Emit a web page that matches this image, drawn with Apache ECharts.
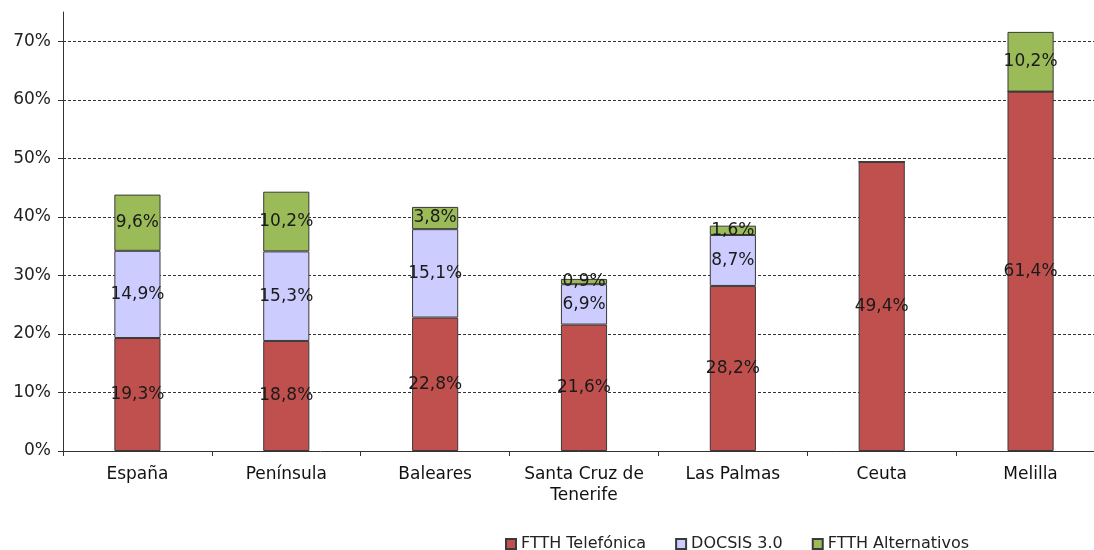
<!DOCTYPE html>
<html><head><meta charset="utf-8">
<script src="https://cdn.jsdelivr.net/npm/echarts@6/dist/echarts.min.js"></script>
<style>html,body{margin:0;padding:0;background:#fff}#c{width:1094px;height:550px}</style>
</head><body><div id="c"></div>
<script>
const categories = ['España', 'Península', 'Baleares', 'Santa Cruz de\nTenerife', 'Las Palmas', 'Ceuta', 'Melilla'];
const ftthTelefonica = [19.3, 18.8, 22.8, 21.6, 28.2, 49.4, 61.4];
const docsis = [14.9, 15.3, 15.1, 6.9, 8.7, 0, 0];
const ftthAlternativos = [9.6, 10.2, 3.8, 0.9, 1.6, 0, 10.2];
const seriesNames = ['FTTH Telefónica', 'DOCSIS 3.0', 'FTTH Alternativos'];
const yTicks = [0, 10, 20, 30, 40, 50, 60, 70];

const font = 'DejaVu Sans, sans-serif';
const chart = echarts.init(document.getElementById('c'));
function mk(name, data, color) {
  return {
    name, type: 'bar', stack: 't', data, barWidth: '31%',
    itemStyle: { color, borderColor: '#3a3a3a', borderWidth: 1 },
    label: {
      show: true, position: 'inside', fontFamily: font, fontSize: 17, color: '#1a1a1a',
      formatter: p => p.value > 0 ? p.value.toFixed(1).replace('.', ',') + '%' : ''
    }
  };
}
chart.setOption({
  animation: false,
  grid: { left: 63, top: 12, right: -11, bottom: 99, containLabel: false, outerBoundsMode: 'none' },
  legend: {
    top: 531, left: 500, itemWidth: 10, itemHeight: 10, itemGap: 29,
    textStyle: { fontFamily: font, fontSize: 16, color: '#222' },
    data: seriesNames.map(n => ({ name: n, icon: 'rect' }))
  },
  xAxis: {
    type: 'category', data: categories,
    axisLine: { lineStyle: { color: '#333' } },
    axisTick: { show: true, length: 5, interval: 0, lineStyle: { color: '#333' } },
    axisLabel: { fontFamily: font, fontSize: 17, color: '#111', margin: 13, lineHeight: 21, interval: 0, hideOverlap: false }
  },
  yAxis: {
    type: 'value', min: 0, max: 75, interval: 10,
    axisLine: { show: true, lineStyle: { color: '#333' } },
    axisTick: { show: true, length: 5, lineStyle: { color: '#333' } },
    axisLabel: {
      fontFamily: font, fontSize: 17, color: '#222', margin: 12, showMaxLabel: false,
      formatter: v => yTicks.includes(v) ? v + '%' : ''
    },
    splitLine: { show: true, showMinLine: false, showMaxLine: false, lineStyle: { color: '#333', type: [3, 2], width: 1 } }
  },
  series: [
    mk(seriesNames[0], ftthTelefonica, '#C0504D'),
    mk(seriesNames[1], docsis, '#CCCCFF'),
    mk(seriesNames[2], ftthAlternativos, '#9BBB59')
  ]
});
</script></body></html>
